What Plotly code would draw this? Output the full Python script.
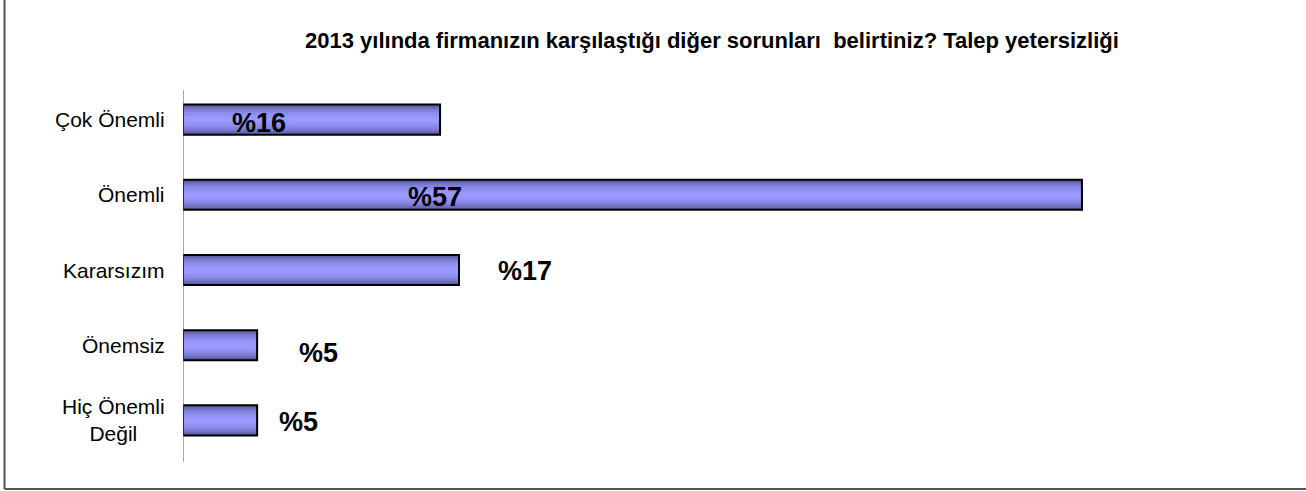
import plotly.graph_objects as go

# ---- data ----
categories = ["Çok Önemli", "Önemli", "Kararsızım", "Önemsiz", "Hiç Önemli<br>Değil"]
values = [16.3, 57.0, 17.5, 4.7, 4.7]
value_labels = ["%16", "%57", "%17", "%5", "%5"]
title_text = "2013 yılında firmanızın karşılaştığı diğer sorunları  belirtiniz? Talep yetersizliği"

# ---- label placement (styling) ----
label_x = [4.8, 16.0, 21.7, 8.6, 7.3]
label_yshift = [-3, -2, -1, -8, -2]

FONT = "Liberation Sans, Arial, sans-serif"

fig = go.Figure()
# gradient imitation: layered bars
layers = [(0.40, "#5a5a9c"), (0.35, "#6a6ab6"), (0.30, "#7878cc"),
          (0.25, "#8383dd"), (0.20, "#8c8cec"), (0.14, "#9393f7"), (0.08, "#9999ff")]
for w, col in layers:
    fig.add_trace(go.Bar(y=categories, x=values, orientation="h", width=w,
                         marker=dict(color=col, line=dict(width=0)),
                         hoverinfo="skip", showlegend=False))
# outline on top
fig.add_trace(go.Bar(y=categories, x=values, orientation="h", width=0.4,
                     marker=dict(color="rgba(0,0,0,0)", line=dict(color="black", width=2)),
                     showlegend=False))

annotations = []
for c, lx, dy, t in zip(categories, label_x, label_yshift, value_labels):
    annotations.append(dict(x=lx, y=c, xref="x", yref="y", text="<b>" + t + "</b>", showarrow=False,
                            yshift=dy, font=dict(family=FONT, size=27, color="black")))
for c in categories:
    annotations.append(dict(x=0, y=c, xref="x", yref="y", text=c, showarrow=False,
                            xanchor="right", align="center", xshift=-16,
                            font=dict(family=FONT, size=21, color="black")))

L, R, T, B = 183, 19, 82, 33
W, H = 1306, 491
pw, ph = W - L - R, H - T - B
annotations.append(dict(x=(712 - L) / pw, y=(H - B - 40) / ph, xref="paper", yref="paper",
                        xanchor="center", yanchor="middle", text="<b>" + title_text + "</b>",
                        showarrow=False, font=dict(family=FONT, size=22, color="black")))

shapes = [
    # y axis line
    dict(type="line", xref="x", yref="paper", x0=0, x1=0,
         y0=(H - B - 462) / ph, y1=(H - B - 90) / ph, line=dict(color="#555555", width=1)),
    # frame: left and bottom
    dict(type="line", xref="paper", yref="paper", x0=(4.5 - L) / pw, x1=(4.5 - L) / pw,
         y0=(H - B - 489) / ph, y1=(H - B + 10) / ph, line=dict(color="#555555", width=2)),
    dict(type="line", xref="paper", yref="paper", x0=(4.5 - L) / pw, x1=(W + 10 - L) / pw,
         y0=(H - B - 489) / ph, y1=(H - B - 489) / ph, line=dict(color="#555555", width=2)),
]

fig.update_layout(
    width=W, height=H,
    margin=dict(l=L, r=R, t=T, b=B, pad=0),
    barmode="overlay",
    plot_bgcolor="white", paper_bgcolor="white",
    xaxis=dict(range=[0, 70], visible=False, fixedrange=True),
    yaxis=dict(categoryorder="array", categoryarray=categories[::-1], autorange=False,
               range=[-0.5, 4.5], showticklabels=False, showgrid=False, zeroline=False,
               showline=False, ticks="", fixedrange=True),
    annotations=annotations,
    shapes=shapes,
    font=dict(family=FONT),
)

fig.write_html("out.html", config={"displayModeBar": False},
               post_script="document.body.style.margin='0';document.body.style.overflow='hidden';")
